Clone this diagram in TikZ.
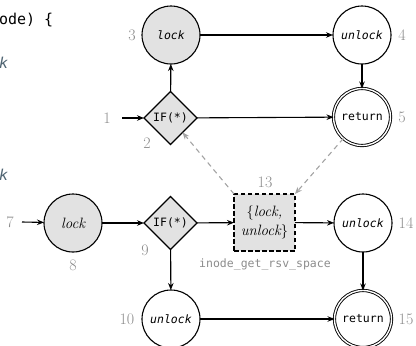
\documentclass[tikz,border=0pt]{standalone}
\usepackage{fontspec}
\setmonofont{DejaVu Sans Mono}
\usetikzlibrary{arrows.meta,shapes.geometric}
\definecolor{nodegray}{HTML}{E2E2E2}
\definecolor{labgray}{HTML}{8C8C8C}
\definecolor{codeblue}{HTML}{4F6472}
\tikzset{
  every node/.style={inner sep=0pt, outer sep=0pt},
  mono/.style={font=\fontsize{11.5}{13}\selectfont\ttfamily},
  monoit/.style={font=\fontsize{11.5}{13}\selectfont\ttfamily\itshape},
  serit/.style={font=\fontsize{15}{19}\selectfont\itshape},
  circ/.style={circle, draw, line width=1.1pt, minimum size=58pt},
  gcirc/.style={circ, fill=nodegray},
  retc/.style={circle, draw, double, double distance=1.4pt, line width=0.9pt, minimum size=57pt},
  ifnode/.style={diamond, draw, line width=1.1pt, fill=nodegray, minimum width=53pt, minimum height=53pt, aspect=1},
  callbox/.style={rectangle, draw, dash pattern=on 4.5pt off 2.5pt, line width=1.2pt, fill=nodegray, minimum width=61pt, minimum height=57pt, align=center},
  numlab/.style={text=labgray, font=\fontsize{16}{17}\selectfont},
  edge/.style={-{Stealth[length=7pt,width=5.5pt]}, line width=1.1pt},
  summ/.style={-{Stealth[length=7pt,width=5.5pt]}, line width=1.1pt, draw=labgray!80, dash pattern=on 5pt off 4pt},
}
\begin{document}
\begin{tikzpicture}[x=1pt,y=-1pt]
\useasboundingbox (0,0) rectangle (416,346);
% code fragments at left
\node[anchor=west, font=\fontsize{15}{16}\selectfont\ttfamily] (code1) at (-1,20) {ode)~\{};
\node[anchor=west, text=codeblue, font=\fontsize{15}{16}\selectfont\ttfamily\itshape] (codek1) at (-1,63) {k};
\node[anchor=west, text=codeblue, font=\fontsize{15}{16}\selectfont\ttfamily\itshape] (codek2) at (-1,175) {k};

% upper graph
\node[gcirc, monoit] (n3) at (171,35) {lock};
\node[circ, monoit] (n4) at (362,35) {unlock};
\node[ifnode, mono] (n2) at (170.5,118) {IF(*)};
\node[retc, mono] (n5) at (362,117) {return};
\node[numlab] (l1) at (107,118) {1};
\node[numlab] (l2) at (147,143) {2};
\node[numlab] (l3) at (132,35) {3};
\node[numlab] (l4) at (402,35) {4};
\node[numlab] (l5) at (402,117) {5};
\coordinate (s1) at (122,118);

% lower graph
\node[gcirc, serit] (n8) at (73,223) {lock};
\node[ifnode, mono] (n9) at (170.5,223) {IF(*)};
\node[callbox, serit] (n13) at (264.5,222.5) {$\{$lock,\\unlock$\}$};
\node[circ, monoit] (n14) at (363,223) {unlock};
\node[circ, monoit] (n10) at (171,319) {unlock};
\node[retc, mono] (n15) at (363,319) {return};
\node[numlab] (l7) at (10,222) {7};
\node[numlab] (l8) at (73,265) {8};
\node[numlab] (l9) at (145,250) {9};
\node[numlab] (l13) at (265,182) {13};
\node[numlab] (l14) at (406,223) {14};
\node[numlab] (l10) at (127,319) {10};
\node[numlab] (l15) at (406,319) {15};
\node[mono, text=labgray] (fn) at (265,264) {inode\_get\_rsv\_space};
\coordinate (s7) at (22,222);

% edges
\draw[edge] (s1) -- (n2);
\draw[edge] (n2) -- (n3);
\draw[edge] (n3) -- (n4);
\draw[edge] (n4) -- (n5);
\draw[edge] (n2) -- (n5);
\draw[edge] (s7) -- (n8);
\draw[edge] (n8) -- (n9);
\draw[edge] (n9) -- (n13);
\draw[edge] (n9) -- (n10);
\draw[edge] (n13) -- (n14);
\draw[edge] (n14) -- (n15);
\draw[edge] (n10) -- (n15);
\draw[summ] (n13.north west) -- (n2);
\draw[summ] (n5) -- (n13.north east);
\end{tikzpicture}
\end{document}
